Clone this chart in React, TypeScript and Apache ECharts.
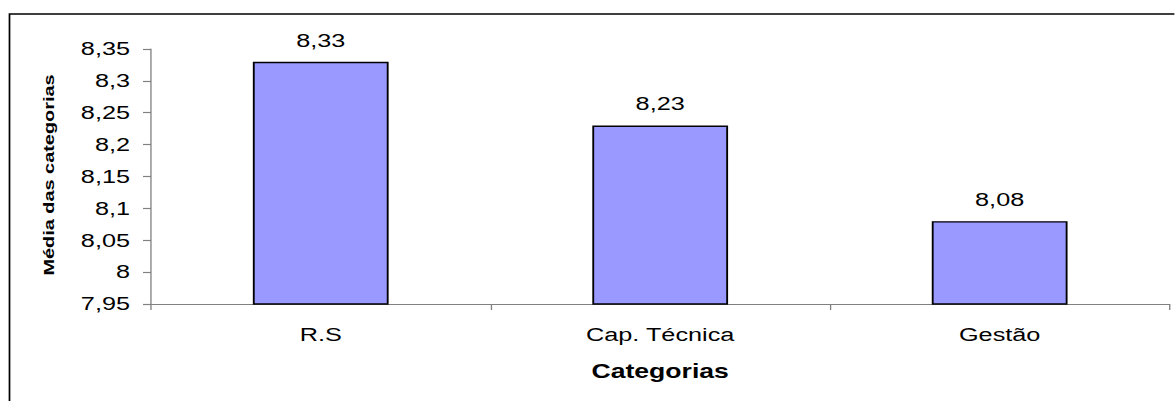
import React, { useEffect, useRef } from "react";
import * as echarts from "echarts";

// Average score per category
const categories = ["R.S", "Cap. Técnica", "Gestão"];
const averages = [8.33, 8.23, 8.08];

// Value axis range and step
const yMin = 7.95;
const yMax = 8.35;
const yStep = 0.05;

const yTitle = "Média das categorias";
const xTitle = "Categorias";

const FONT = "'Liberation Sans', Arial, Helvetica, sans-serif";

// The chart is laid out narrower and widened with a horizontal stretch,
// which gives the broad lettering of the original sheet.
const STRETCH = 1.33;
const OUT_W = 1175;
const OUT_H = 401;
const W = OUT_W / STRETCH;
const sx = (px: number) => px / STRETCH;

// Decimal comma, trailing zeros dropped: 8.30 -> "8,3", 8.00 -> "8"
const fmt = (v: number) => String(parseFloat(v.toFixed(2))).replace(".", ",");

export default function App() {
  const ref = useRef<HTMLDivElement>(null);

  useEffect(() => {
    if (!ref.current) return;
    const chart = echarts.init(ref.current, undefined, { renderer: "svg" });
    chart.setOption({
      animation: false,
      backgroundColor: "#ffffff",
      textStyle: { fontFamily: FONT, color: "#000" },
      grid: { left: sx(151), right: sx(5), top: 49, bottom: 97 },
      graphic: [
        {
          type: "rect",
          shape: { x: sx(9.5), y: 14, width: 1300, height: 500 },
          style: { fill: "none", stroke: "#000", lineWidth: 1.3 },
          silent: true,
        },
        {
          // rotated value-axis title, kept at normal proportions across its height
          type: "text",
          x: sx(49),
          y: 175,
          rotation: Math.PI / 2,
          scaleX: 1.42,
          scaleY: 1 / STRETCH,
          style: {
            text: yTitle,
            fontFamily: FONT,
            fontSize: 14,
            fontWeight: "bold",
            fill: "#000",
            align: "center",
            verticalAlign: "middle",
          },
          silent: true,
        },
      ],
      xAxis: {
        type: "category",
        data: categories,
        name: xTitle,
        nameLocation: "middle",
        nameGap: 57,
        nameTextStyle: { fontFamily: FONT, fontSize: 20, fontWeight: "bold", color: "#000" },
        axisLine: { lineStyle: { color: "#808080", width: 1.2 } },
        axisTick: { show: true, length: 6, lineStyle: { color: "#808080", width: 1 } },
        axisLabel: { margin: 21, fontFamily: FONT, fontSize: 19, color: "#000" },
        splitLine: { show: false },
      },
      yAxis: {
        type: "value",
        min: yMin,
        max: yMax,
        interval: yStep,
        axisLine: { show: true, lineStyle: { color: "#808080", width: 1 } },
        axisTick: { show: true, length: sx(8), lineStyle: { color: "#808080", width: 1.2 } },
        axisLabel: { margin: sx(21), fontFamily: FONT, fontSize: 19, color: "#000", formatter: fmt },
        splitLine: { show: false },
      },
      series: [
        {
          type: "bar",
          data: averages,
          barWidth: "40%",
          itemStyle: { color: "#9999FF", borderColor: "#000", borderWidth: 1.4 },
          label: {
            show: true,
            position: "top",
            distance: 12,
            fontFamily: FONT,
            fontSize: 19,
            color: "#000",
            formatter: (p: any) => fmt(p.value),
          },
        },
      ],
    });
    return () => chart.dispose();
  }, []);

  return (
    <>
      <style>{`body{margin:0}`}</style>
      <div style={{ width: OUT_W, height: OUT_H, overflow: "hidden", background: "#fff" }}>
        <div
          ref={ref}
          style={{
            width: W,
            height: OUT_H,
            transform: `scaleX(${STRETCH})`,
            transformOrigin: "0 0",
          }}
        />
      </div>
    </>
  );
}
